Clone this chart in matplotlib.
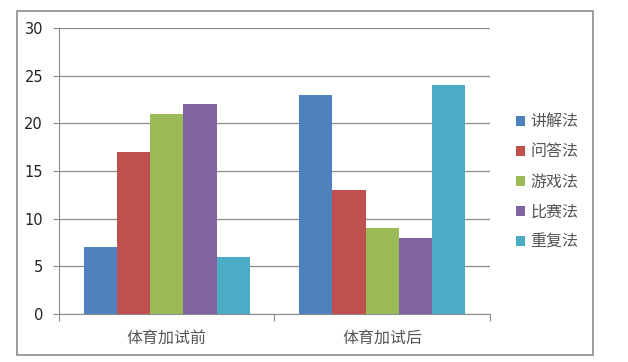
import matplotlib.pyplot as plt
import matplotlib.patches as mpatches
import numpy as np

plt.rcParams['font.family'] = ['Noto Sans CJK SC', 'DejaVu Sans']

# data
groups = ['体育加试前', '体育加试后']
methods = ['讲解法', '问答法', '游戏法', '比赛法', '重复法']
values = {
    '讲解法': [7, 23],
    '问答法': [17, 13],
    '游戏法': [21, 9],
    '比赛法': [22, 8],
    '重复法': [6, 24],
}
colors = ['#4F81BD', '#C0504D', '#9BBB59', '#8064A2', '#4BACC6']
y_ticks = [0, 5, 10, 15, 20, 25, 30]

fig = plt.figure(figsize=(6.28, 3.62), dpi=100)
ax = fig.add_axes([0.094, 0.1326, 0.686, 0.7901])

# outer frame of the chart
fig.patches.append(mpatches.Rectangle((17 / 628, 1 - 355 / 362), 576 / 628, 344 / 362,
                                      transform=fig.transFigure, fill=False,
                                      edgecolor='#8c8c8c', linewidth=1.2))

x = np.arange(len(groups)) + 0.5
bar_w = 0.772 / len(methods)
handles = []
for i, (m, c) in enumerate(zip(methods, colors)):
    offs = (i - (len(methods) - 1) / 2) * bar_w
    b = ax.bar(x + offs, values[m], width=bar_w, color=c, label=m, zorder=3)
    handles.append(b)

ax.set_xlim(0, len(groups))
ax.set_ylim(0, 30)
ax.set_yticks(y_ticks)
ax.set_yticklabels([str(v) for v in y_ticks], family='DejaVu Sans')
ax.yaxis.grid(True, color='#8c8c8c', linewidth=0.9, zorder=0)
ax.tick_params(axis='y', length=4.5, color='#8c8c8c', labelsize=10.5, labelcolor='#222222', pad=7)

# category ticks at group borders, labels centred
ax.set_xticks([0, 1, 2])
ax.set_xticklabels([])
ax.set_xticks(x, minor=True)
ax.set_xticklabels(groups, minor=True, fontsize=11.5, color='#555555')
ax.tick_params(axis='x', which='major', length=5, color='#8c8c8c')
ax.tick_params(axis='x', which='minor', length=0, pad=11)

for s in ['top', 'right']:
    ax.spines[s].set_visible(False)
for s in ['left', 'bottom']:
    ax.spines[s].set_color('#8c8c8c')

leg = fig.legend(handles=handles, labels=methods, loc='center left',
                 bbox_to_anchor=(0.822, 0.497), frameon=False, fontsize=11.5,
                 handlelength=0.57, handleheight=0.57, handletextpad=0.3,
                 labelspacing=0.82, labelcolor='#555555', borderaxespad=0, borderpad=0)

fig.savefig('out.png', dpi=100)
